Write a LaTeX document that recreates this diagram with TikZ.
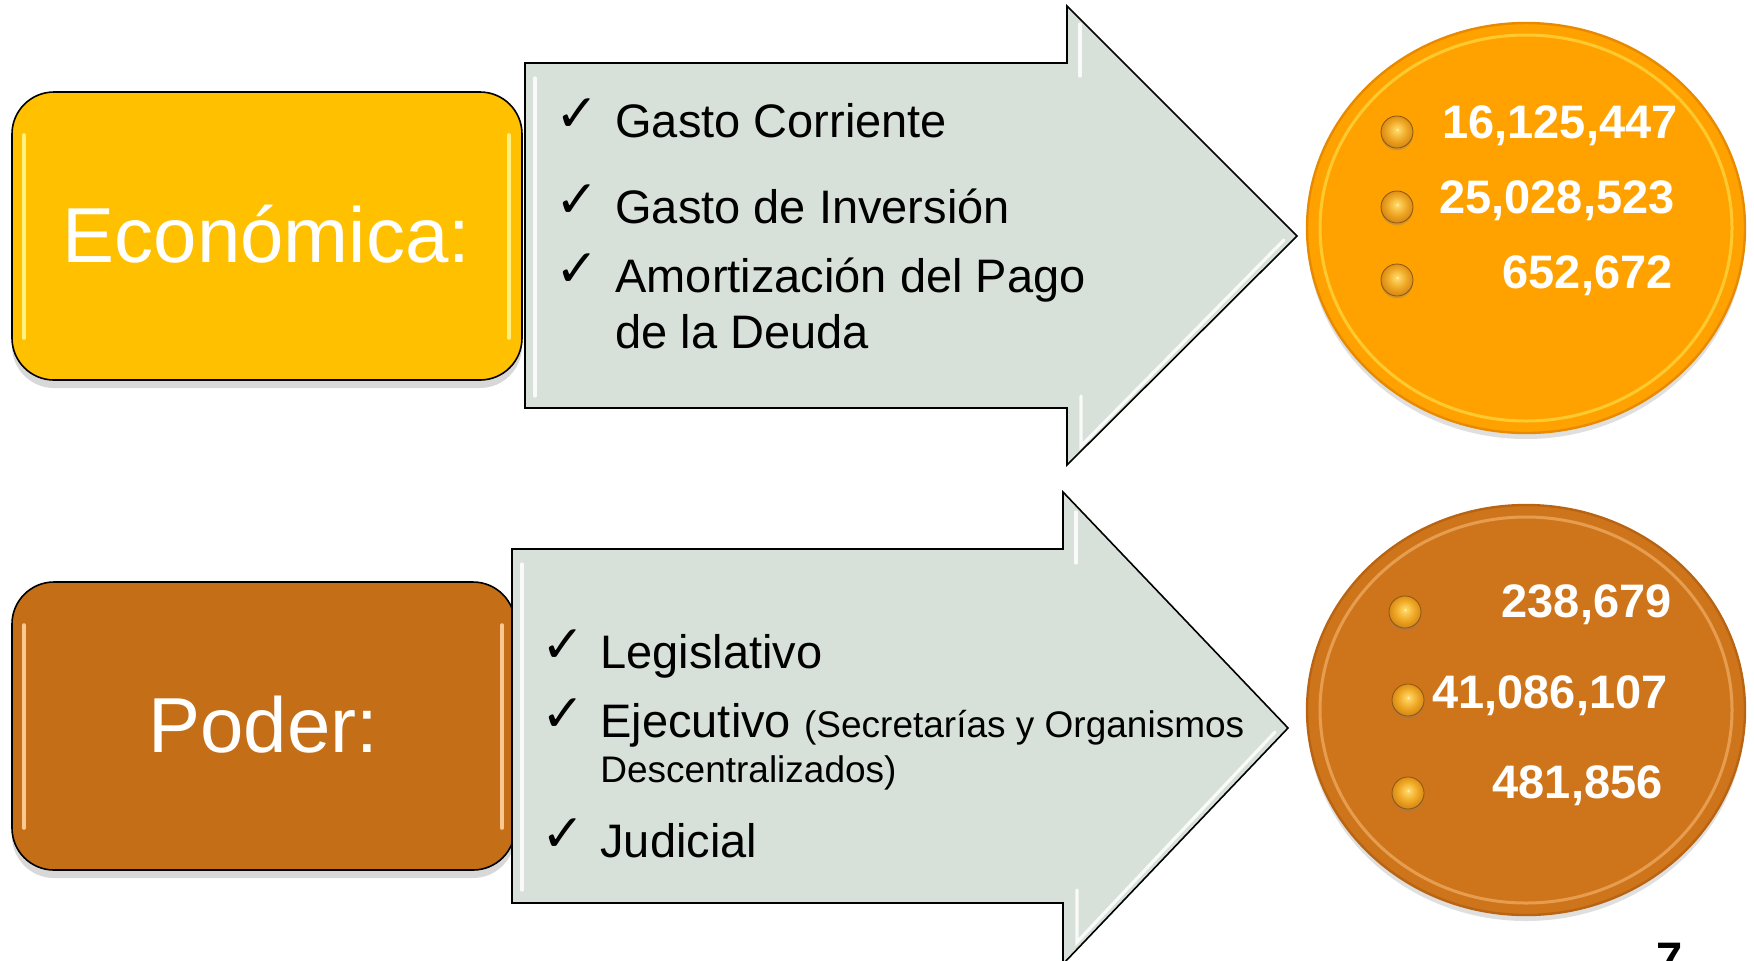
\documentclass[tikz,border=0pt]{standalone}
\usepackage{fontspec}
\setmainfont{Liberation Sans}
\newfontfamily\chkfont{DejaVu Sans}
\usetikzlibrary{shapes.geometric,shadows}
\definecolor{econfill}{RGB}{255,192,0}
\definecolor{econhi}{RGB}{255,240,130}
\definecolor{podfill}{RGB}{196,111,24}
\definecolor{podhi}{RGB}{250,200,145}
\definecolor{arrfill}{RGB}{216,225,217}
\definecolor{ellone}{RGB}{255,162,0}
\definecolor{ellonerim}{RGB}{232,138,0}
\definecolor{ellonehi}{RGB}{255,212,60}
\definecolor{elltwo}{RGB}{206,117,27}
\definecolor{elltworim}{RGB}{184,100,18}
\definecolor{elltwohi}{RGB}{238,168,92}
\definecolor{beadlight}{RGB}{255,215,100}
\definecolor{beadmid}{RGB}{238,165,35}
\definecolor{beaddark}{RGB}{205,125,15}
\definecolor{beadedge}{RGB}{130,75,5}
\definecolor{beadline}{RGB}{140,85,15}
\pgfdeclareradialshading{beadshade}{\pgfpoint{0bp}{4bp}}{%
  color(0bp)=(white);
  color(2bp)=(beadlight);
  color(16bp)=(beadmid);
  color(30bp)=(beaddark);
  color(42bp)=(beadedge);
  color(50bp)=(beadedge)}
\begin{document}
\begin{tikzpicture}[x=0.5pt,y=-0.5pt,
  catbox/.style={rectangle, rounded corners=21pt, draw=black, line width=0.8pt,
    inner sep=0pt, minimum height=144pt,
    drop shadow={shadow xshift=0pt, shadow yshift=-4pt, opacity=0.3}},
  cattext/.style={text=white, font=\fontsize{39}{44}\selectfont, inner sep=0pt, anchor=base},
  arrowshape/.style={fill=arrfill, draw=black, line width=0.8pt, line join=miter},
  bevel/.style={white, line width=1.6pt, opacity=0.85, line cap=round},
  chkmark/.style={font=\chkfont\fontsize{26}{30}\selectfont, inner sep=0pt, anchor=base west},
  item/.style={font=\fontsize{23.5}{28}\selectfont, inner sep=0pt, anchor=base west},
  smallitem/.style={font=\fontsize{18.5}{22}\selectfont, inner sep=0pt, anchor=base west},
  numtxt/.style={text=white, font=\bfseries\fontsize{23.5}{28}\selectfont, inner sep=0pt, anchor=base east},
  coin/.style={ellipse, inner sep=0pt, minimum width=219pt, minimum height=205pt, line width=1.2pt,
    drop shadow={shadow xshift=0pt, shadow yshift=-3pt, opacity=0.25}},
  beadball/.style={circle, inner sep=0pt, minimum size=16pt, shading=beadshade,
    draw=beadline, line width=0.4pt,
    drop shadow={shadow xshift=0pt, shadow yshift=-1.2pt, opacity=0.35}},
]
\useasboundingbox (0,0) rectangle (1754,960);
\clip (0,0) rectangle (1754,960);
\fill[white] (0,0) rectangle (1754,960);

% ---- category boxes
\node[catbox, fill=econfill, minimum width=255pt] (econ) at (267,236) {};
\draw[econhi, line width=1.8pt, line cap=round] (24,135) -- (24,338);
\draw[econhi, line width=1.8pt, line cap=round] (509,135) -- (509,338);
\node[cattext] (econlbl) at (266.5,262) {Económica:};

\node[catbox, fill=podfill, minimum width=251.5pt] (poder) at (263.5,726) {};
\draw[podhi, line width=1.8pt, line cap=round] (24,625) -- (24,828);
\draw[podhi, line width=1.8pt, line cap=round] (502,625) -- (502,828);
\node[cattext] (poderlbl) at (263.5,752) {Poder:};

% ---- arrows
\path[arrowshape] (525,63) -- (1067,63) -- (1067,6) -- (1297,236) -- (1067,465)
  -- (1067,408) -- (525,408) -- cycle;
\draw[bevel] (535,78) -- (535,396);
\draw[bevel] (1080,24) -- (1080,76);
\draw[bevel] (1284,240) -- (1081,446) -- (1081,396);

\path[arrowshape] (512,549) -- (1063,549) -- (1063,492) -- (1288,728) -- (1063,964)
  -- (1063,903) -- (512,903) -- cycle;
\draw[bevel] (522,564) -- (522,890);
\draw[bevel] (1076,512) -- (1076,563);
\draw[bevel] (1275,732) -- (1077,942) -- (1077,890);

% ---- top list
\node[chkmark] (c1) at (555,131) {✓};
\node[chkmark] (c2) at (555,217) {✓};
\node[chkmark] (c3) at (555,286) {✓};
\node[item] (t1) at (615,137) {Gasto Corriente};
\node[item] (t2) at (615,223) {Gasto de Inversión};
\node[item] (t3) at (615,292) {Amortización del Pago};
\node[item] (t4) at (615,348) {de la Deuda};

% ---- bottom list
\node[chkmark] (d1) at (541,662) {✓};
\node[chkmark] (d2) at (541,731) {✓};
\node[chkmark] (d3) at (541,851) {✓};
\node[item] (u1) at (600,668) {Legislativo};
\node[item] (u2) at (600,737) {Ejecutivo {\fontsize{18.5}{22}\selectfont(Secretarías y Organismos}};
\node[smallitem] (u3) at (600,782) {Descentralizados)};
\node[item] (u4) at (600,857) {Judicial};

% ---- coins
\node[coin, fill=ellone, draw=ellonerim] (coinA) at (1526,228) {};
\draw[ellonehi, line width=1.5pt, opacity=0.8] (coinA.center) ellipse [x radius=103pt, y radius=96.5pt];
\node[coin, fill=elltwo, draw=elltworim] (coinB) at (1526,710) {};
\draw[elltwohi, line width=1.5pt, opacity=0.8] (coinB.center) ellipse [x radius=103pt, y radius=96.5pt];

\node[beadball] (a1) at (1397,132) {};
\node[beadball] (a2) at (1397,207) {};
\node[beadball] (a3) at (1397,280) {};
\node[numtxt] (n1) at (1678,138) {16,125,447};
\node[numtxt] (n2) at (1675,213) {25,028,523};
\node[numtxt] (n3) at (1673,288) {652,672};

\node[beadball] (b1) at (1405,612) {};
\node[beadball] (b2) at (1408,700) {};
\node[beadball] (b3) at (1408,793) {};
\node[numtxt] (m1) at (1672,617) {238,679};
\node[numtxt] (m2) at (1668,708) {41,086,107};
\node[numtxt] (m3) at (1663,798) {481,856};

% ---- page number
\node[anchor=north west, inner sep=0pt, font=\bfseries\fontsize{23.5}{28}\selectfont] (pg) at (1656,943) {7};
\end{tikzpicture}
\end{document}
